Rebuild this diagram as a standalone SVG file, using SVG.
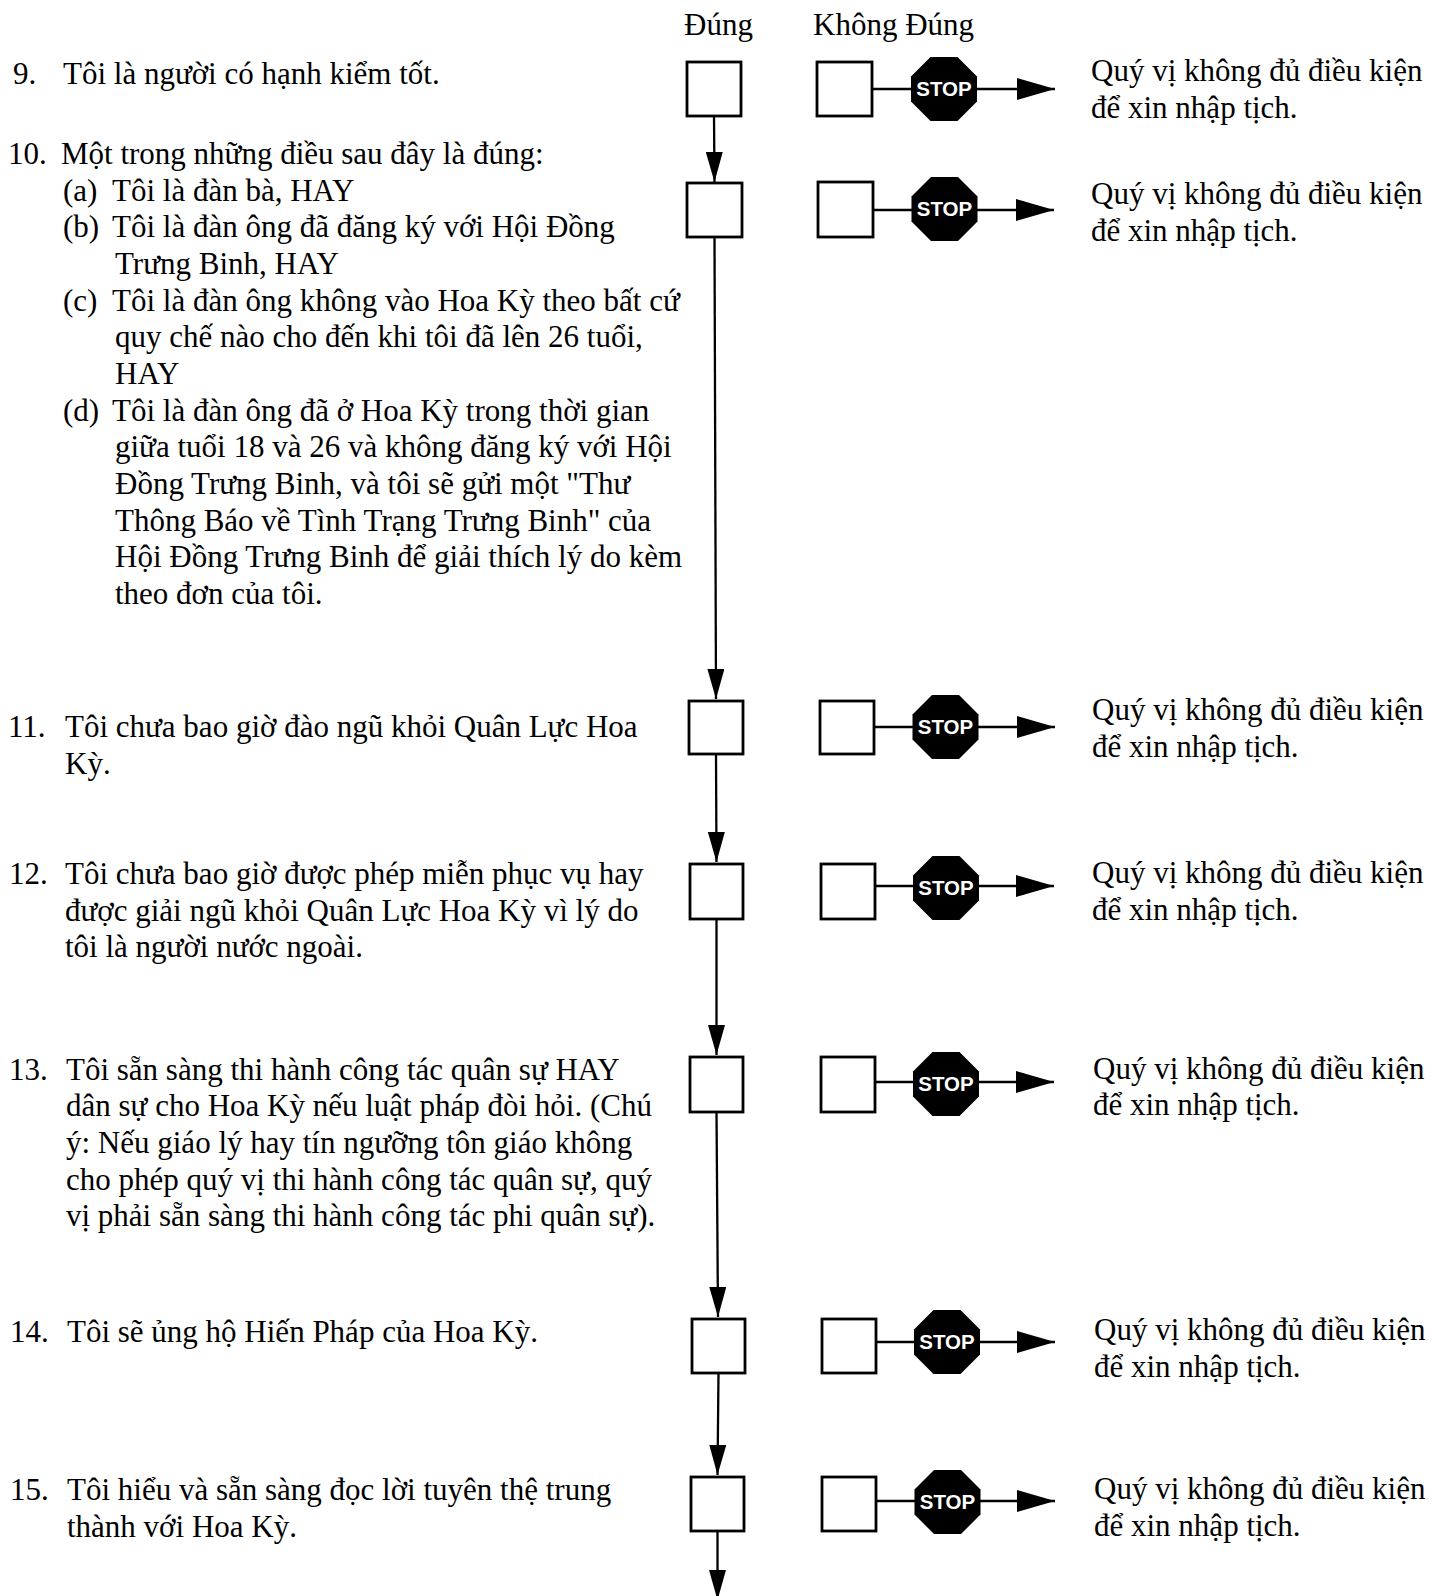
<svg xmlns="http://www.w3.org/2000/svg" width="1439" height="1596" viewBox="0 0 1439 1596">
<style>
text{font-family:"Liberation Serif","Times New Roman",serif;font-size:31px;fill:#000}
.box{fill:#fff;stroke:#000;stroke-width:2.8}
.ln{stroke:#000;stroke-width:2.3;fill:none}
.oct{fill:#000}
.stop{font-family:"Liberation Sans",Arial,sans-serif;font-weight:bold;font-size:20.5px;fill:#fff;text-anchor:middle}
</style>
<defs>
<marker id="ahv" viewBox="0 0 30 17" refX="30" refY="8.5" markerWidth="30" markerHeight="17" markerUnits="userSpaceOnUse" orient="auto"><path d="M0,0 L30,8.5 L0,17 Z" fill="#000"/></marker>
<marker id="ahh" viewBox="0 0 38 22" refX="38" refY="11" markerWidth="38" markerHeight="22" markerUnits="userSpaceOnUse" orient="auto"><path d="M0,0 L38,11 L0,22 Z" fill="#000"/></marker>
<polygon id="octs" points="-13.5,-32 13.5,-32 33,-12.5 33,12.5 13.5,32 -13.5,32 -33,12.5 -33,-12.5"/>
</defs>

<g id="header">
<text x="684" y="35">Đúng</text>
<text x="813" y="35">Không Đúng</text>
</g>

<g id="connectors">
<line class="ln" x1="714" y1="116" x2="714.5" y2="182" marker-end="url(#ahv)"/>
<line class="ln" x1="714.5" y1="237" x2="716" y2="699" marker-end="url(#ahv)"/>
<line class="ln" x1="716" y1="754" x2="716.5" y2="862" marker-end="url(#ahv)"/>
<line class="ln" x1="716.5" y1="919" x2="716.5" y2="1055" marker-end="url(#ahv)"/>
<line class="ln" x1="716.5" y1="1112" x2="718" y2="1317" marker-end="url(#ahv)"/>
<line class="ln" x1="718.5" y1="1373" x2="717.5" y2="1475" marker-end="url(#ahv)"/>
<line class="ln" x1="717.5" y1="1531" x2="717.5" y2="1600" marker-end="url(#ahv)"/>
<line class="ln" x1="872" y1="89" x2="1055" y2="89" marker-end="url(#ahh)"/>
<line class="ln" x1="873" y1="210" x2="1054" y2="210" marker-end="url(#ahh)"/>
<line class="ln" x1="874" y1="727" x2="1055" y2="727" marker-end="url(#ahh)"/>
<line class="ln" x1="875" y1="886" x2="1054" y2="886" marker-end="url(#ahh)"/>
<line class="ln" x1="875" y1="1082" x2="1054" y2="1082" marker-end="url(#ahh)"/>
<line class="ln" x1="876" y1="1342" x2="1055" y2="1342" marker-end="url(#ahh)"/>
<line class="ln" x1="876" y1="1501" x2="1055" y2="1501" marker-end="url(#ahh)"/>
</g>

<g id="q9">
<text x="13" y="83.5">9.</text>
<text x="63" y="83.5">Tôi là người có hạnh kiểm tốt.</text>
<rect class="box" x="687" y="62" width="54" height="54"/>
<rect class="box" x="817" y="62" width="55" height="54"/>
<use href="#octs" class="oct" x="944" y="89"/>
<text class="stop" x="944" y="96">STOP</text>
<text x="1091" y="81">Quý vị không đủ điều kiện</text>
<text x="1091" y="117.5">để xin nhập tịch.</text>
</g>

<g id="q10">
<text x="8" y="164">10.</text>
<text x="61" y="164">Một trong những điều sau đây là đúng:</text>
<text x="63" y="200.7">(a)</text>
<text x="112" y="200.7">Tôi là đàn bà, HAY</text>
<text x="63" y="237.3">(b)</text>
<text x="112" y="237.3">Tôi là đàn ông đã đăng ký với Hội Đồng</text>
<text x="115" y="274">Trưng Binh, HAY</text>
<text x="63" y="310.6">(c)</text>
<text x="112" y="310.6">Tôi là đàn ông không vào Hoa Kỳ theo bất cứ</text>
<text x="115" y="347.3">quy chế nào cho đến khi tôi đã lên 26 tuổi,</text>
<text x="115" y="384">HAY</text>
<text x="63" y="420.6">(d)</text>
<text x="112" y="420.6">Tôi là đàn ông đã ở Hoa Kỳ trong thời gian</text>
<text x="115" y="457.3">giữa tuổi 18 và 26 và không đăng ký với Hội</text>
<text x="115" y="494">Đồng Trưng Binh, và tôi sẽ gửi một "Thư</text>
<text x="115" y="530.6">Thông Báo về Tình Trạng Trưng Binh" của</text>
<text x="115" y="567.3">Hội Đồng Trưng Binh để giải thích lý do kèm</text>
<text x="115" y="604">theo đơn của tôi.</text>
<rect class="box" x="687" y="183" width="55" height="54"/>
<rect class="box" x="818" y="182" width="55" height="55"/>
<use href="#octs" class="oct" x="944.5" y="209"/>
<text class="stop" x="944.5" y="216">STOP</text>
<text x="1091" y="203.5">Quý vị không đủ điều kiện</text>
<text x="1091" y="240.5">để xin nhập tịch.</text>
</g>

<g id="q11">
<text x="8" y="737">11.</text>
<text x="65" y="737">Tôi chưa bao giờ đào ngũ khỏi Quân Lực Hoa</text>
<text x="65" y="774">Kỳ.</text>
<rect class="box" x="689" y="701" width="54" height="53"/>
<rect class="box" x="820" y="701" width="54" height="53"/>
<use href="#octs" class="oct" x="945.5" y="727"/>
<text class="stop" x="945.5" y="734">STOP</text>
<text x="1092" y="720">Quý vị không đủ điều kiện</text>
<text x="1092" y="757">để xin nhập tịch.</text>
</g>

<g id="q12">
<text x="9" y="884">12.</text>
<text x="65" y="884">Tôi chưa bao giờ được phép miễn phục vụ hay</text>
<text x="65" y="920.5">được giải ngũ khỏi Quân Lực Hoa Kỳ vì lý do</text>
<text x="65" y="957">tôi là người nước ngoài.</text>
<rect class="box" x="690" y="864" width="53" height="55"/>
<rect class="box" x="821" y="864" width="54" height="55"/>
<use href="#octs" class="oct" x="946" y="888"/>
<text class="stop" x="946" y="895">STOP</text>
<text x="1092" y="883">Quý vị không đủ điều kiện</text>
<text x="1092" y="920">để xin nhập tịch.</text>
</g>

<g id="q13">
<text x="9" y="1079.5">13.</text>
<text x="66" y="1079.5">Tôi sẵn sàng thi hành công tác quân sự HAY</text>
<text x="66" y="1116">dân sự cho Hoa Kỳ nếu luật pháp đòi hỏi. (Chú</text>
<text x="66" y="1153">ý: Nếu giáo lý hay tín ngưỡng tôn giáo không</text>
<text x="66" y="1189.5">cho phép quý vị thi hành công tác quân sự, quý</text>
<text x="66" y="1226">vị phải sẵn sàng thi hành công tác phi quân sự).</text>
<rect class="box" x="690" y="1057" width="53" height="55"/>
<rect class="box" x="821" y="1057" width="54" height="55"/>
<use href="#octs" class="oct" x="946" y="1084"/>
<text class="stop" x="946" y="1091">STOP</text>
<text x="1093" y="1078.5">Quý vị không đủ điều kiện</text>
<text x="1093" y="1115">để xin nhập tịch.</text>
</g>

<g id="q14">
<text x="10" y="1342">14.</text>
<text x="67" y="1342">Tôi sẽ ủng hộ Hiến Pháp của Hoa Kỳ.</text>
<rect class="box" x="692" y="1319" width="53" height="54"/>
<rect class="box" x="822" y="1319" width="54" height="54"/>
<use href="#octs" class="oct" x="947" y="1342"/>
<text class="stop" x="947" y="1349">STOP</text>
<text x="1094" y="1340">Quý vị không đủ điều kiện</text>
<text x="1094" y="1377">để xin nhập tịch.</text>
</g>

<g id="q15">
<text x="10" y="1500">15.</text>
<text x="67" y="1500">Tôi hiểu và sẵn sàng đọc lời tuyên thệ trung</text>
<text x="67" y="1537">thành với Hoa Kỳ.</text>
<rect class="box" x="691" y="1477" width="53" height="54"/>
<rect class="box" x="822" y="1477" width="54" height="54"/>
<use href="#octs" class="oct" x="947.5" y="1502"/>
<text class="stop" x="947.5" y="1509">STOP</text>
<text x="1094" y="1499">Quý vị không đủ điều kiện</text>
<text x="1094" y="1536">để xin nhập tịch.</text>
</g>
</svg>
